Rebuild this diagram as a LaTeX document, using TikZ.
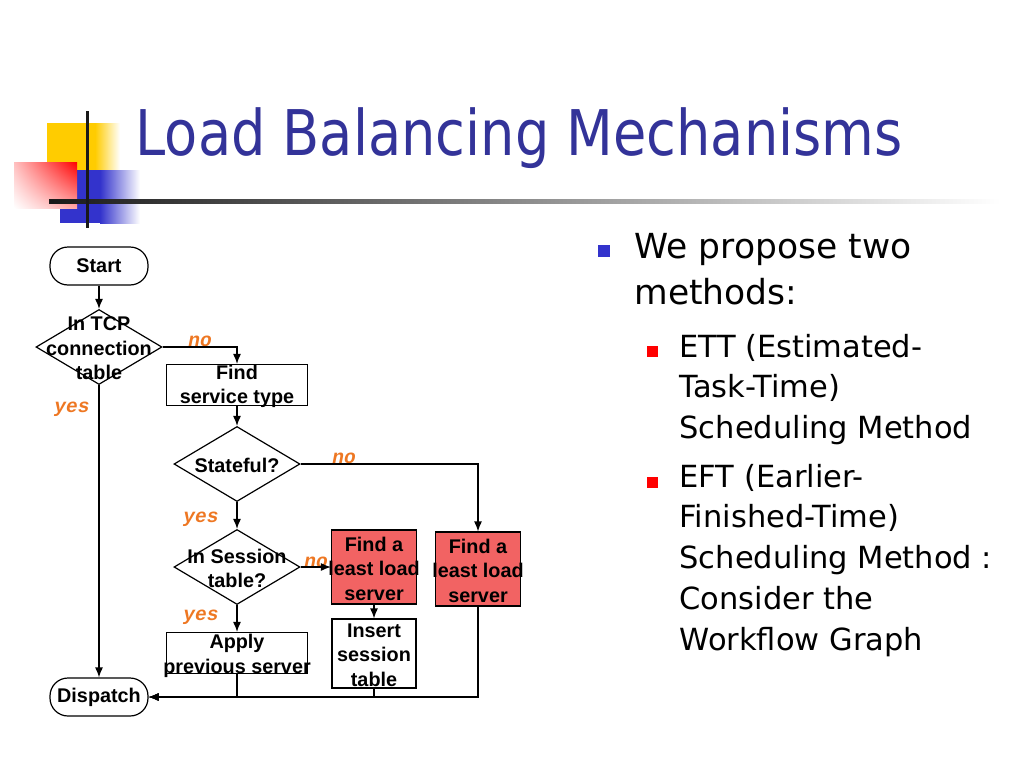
\documentclass[tikz,border=0pt]{standalone}
\usepackage{fontspec}
\usepackage{tikz}
\usetikzlibrary{shapes.geometric,shadings,arrows.meta}

\setmainfont{DejaVu Sans}
\newfontfamily\titlefont[FakeStretch=0.86]{DejaVu Sans}
\newfontfamily\chartfont{Liberation Sans}
\newfontfamily\answerfont{Liberation Mono}

\definecolor{titleblue}{RGB}{51,51,153}
\definecolor{bulletblue}{RGB}{51,51,204}
\definecolor{boxred}{RGB}{242,99,99}
\definecolor{answerorange}{RGB}{238,119,34}
\definecolor{logoyellow}{RGB}{255,204,0}

\begin{document}
\begin{tikzpicture}[x=1pt, y=-1pt, line width=1.2pt, >={Latex[length=10pt,width=8pt]},
        every node/.append style={font=\chartfont\bfseries\fontsize{19.8}{24.5}\selectfont, align=center, inner sep=0pt},
        every label/.append style={yshift=-1.5pt},
        terminal/.style={draw, rounded corners=18pt, minimum width=98pt, minimum height=38pt},
        decision/.style={draw, diamond, minimum width=126pt, minimum height=75pt},
        process/.style={draw, minimum width=141pt, minimum height=41pt},
        choose/.style={draw, fill=boxred, minimum width=85pt, minimum height=74pt},
        answer/.style={font=\answerfont\bfseries\itshape\fontsize{19.5}{19.5}\selectfont, text=answerorange},
        bodytext/.style={font=\fontsize{34.5}{46}\selectfont, anchor=base west},
        subtext/.style={font=\fontsize{30.5}{41}\selectfont, anchor=base west}]
        \fill [white] (0,0) rectangle (1024,768);
        \useasboundingbox (0,0) rectangle (1024,768);

        % logo
        \fill [logoyellow] (47,123) rectangle (95,170);
        \shade [left color=logoyellow, right color=white] (95,123) rectangle (120,170);
        \fill [bulletblue] (60,170) rectangle (100,223);
        \shade [left color=bulletblue, right color=white] (100,170) rectangle (140,223);
        \shade [upper right=red, upper left=red!25, lower right=red!35, lower left=white] (14,162) rectangle (77,208);
        \shade [left color=black!90, right color=white] (49,199) rectangle (1000,203);
        \fill [black!90] (85.5,111) rectangle (88.5,228);

        \node [font=\titlefont\fontsize{63}{63}\selectfont, text=titleblue, anchor=base west] (title) at (135,155) {Load Balancing Mechanisms};

        % flowchart
        \node [terminal] (start) at (99,266) {Start};
        \node [decision, label={center:In TCP\\connection\\table}] (tcp) at (99,347) {};
        \node [process, label={center:Find\\service type}] (service) at (237,385) {};
        \node [decision, label={center:Stateful?}] (stateful) at (237,464) {};
        \node [decision, label={center:In Session\\table?}] (session) at (237,567) {};
        \node [choose, label={center:Find a\\least load\\server}] (least1) at (374,567) {};
        \node [choose, label={center:Find a\\least load\\server}] (least2) at (478,569) {};
        \node [draw, minimum width=84pt, minimum height=69pt, label={center:Insert\\session\\table}] (insert) at (374,653.5) {};
        \node [process, label={[yshift=-1.5pt]center:Apply\\previous server}] (apply) at (237,653) {};
        \node [terminal] (dispatch) at (99,697) {Dispatch};

        \node [answer] (no1) at (200,341) {no};
        \node [answer] (yes1) at (72,409) {yes};
        \node [answer] (no2) at (344,458) {no};
        \node [answer] (yes2) at (201,519) {yes};
        \node [answer] (no3) at (316,562) {no};
        \node [answer] (yes3) at (201,617) {yes};

        \draw [->] (start) -- (tcp);
        \draw [->] (tcp.east) -| (service);
        \draw [->] (tcp) -- (dispatch);
        \draw [->] (service) -- (stateful);
        \draw [->] (stateful.east) -| (least2);
        \draw [->] (stateful) -- (session);
        \draw [->] (session) -- (least1);
        \draw [->] (least1) -- (insert);
        \draw [->] (session) -- (apply);
        \draw [->] (apply) |- (dispatch);
        \draw [->] (insert) |- (dispatch);
        \draw [->] (least2) |- (dispatch);

        % bullets
        \fill [bulletblue] (598,245) rectangle (610,257);
        \fill [red] (647,346) rectangle (658,357);
        \fill [red] (647,477) rectangle (658,488);
        \node [bodytext] (we) at (634,258) {We propose two};
        \node [bodytext] (methods) at (634,304) {methods:};
        \node [subtext] (ett1) at (679,357) {ETT (Estimated-};
        \node [subtext] (ett2) at (679,397) {Task-Time)};
        \node [subtext] (ett3) at (679,438) {Scheduling Method};
        \node [subtext] (eft1) at (679,487) {EFT (Earlier-};
        \node [subtext] (eft2) at (679,527) {Finished-Time)};
        \node [subtext] (eft3) at (679,568) {Scheduling Method :};
        \node [subtext] (eft4) at (679,609) {Consider the};
        \node [subtext] (eft5) at (679,650) {Workflow Graph};
    \end{tikzpicture}
\end{document}
